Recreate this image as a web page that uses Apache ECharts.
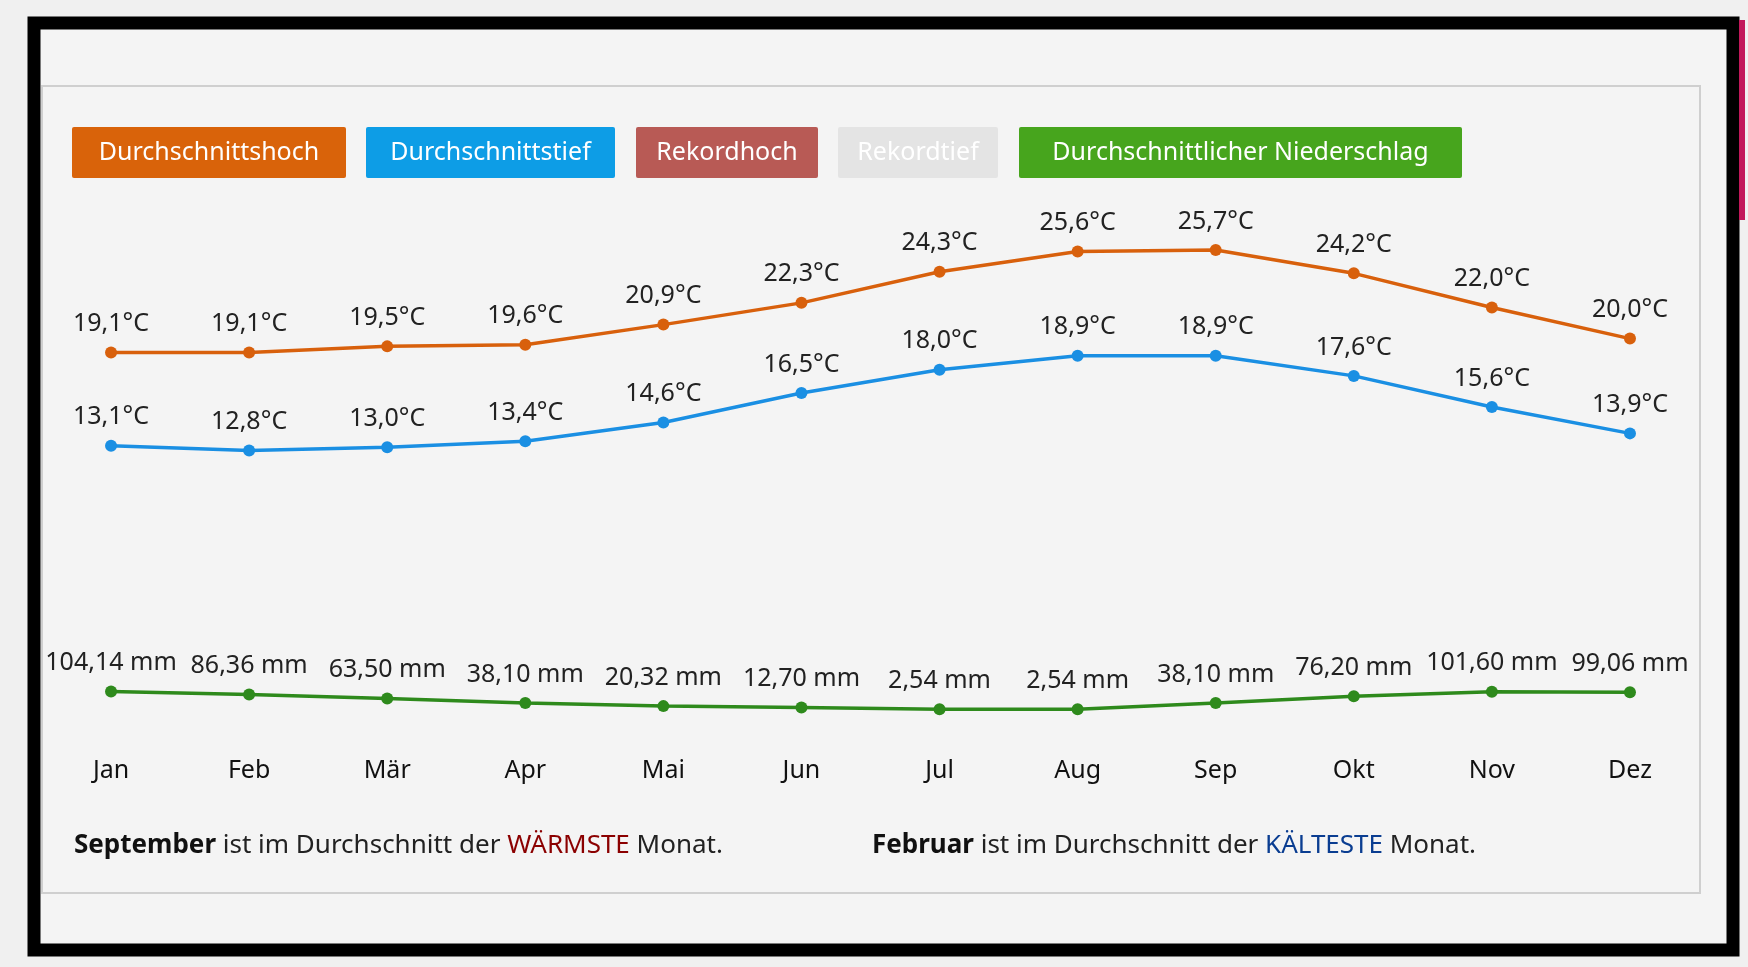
<!DOCTYPE html>
<html>
<head>
<meta charset="utf-8">
<title>Klima</title>
<script src="https://cdn.jsdelivr.net/npm/echarts@6/dist/echarts.min.js"></script>
<style>
  * { margin: 0; padding: 0; }
  html, body { background: #f0f0f0; }
  #main { width: 1748px; height: 967px; }
</style>
</head>
<body>
<div id="main"></div>
<script>
var months = ['Jan', 'Feb', 'Mär', 'Apr', 'Mai', 'Jun', 'Jul', 'Aug', 'Sep', 'Okt', 'Nov', 'Dez'];
var avgHigh = [19.1, 19.1, 19.5, 19.6, 20.9, 22.3, 24.3, 25.6, 25.7, 24.2, 22.0, 20.0];
var avgLow = [13.1, 12.8, 13.0, 13.4, 14.6, 16.5, 18.0, 18.9, 18.9, 17.6, 15.6, 13.9];
var precip = [104.14, 86.36, 63.50, 38.10, 20.32, 12.70, 2.54, 2.54, 38.10, 76.20, 101.60, 99.06];
var legendItems = [
  { name: 'Durchschnittshoch', color: '#d9630a', x: 72, w: 274 },
  { name: 'Durchschnittstief', color: '#0d9de6', x: 366, w: 249 },
  { name: 'Rekordhoch', color: '#b85a55', x: 636, w: 182 },
  { name: 'Rekordtief', color: '#e4e4e4', x: 838, w: 160 },
  { name: 'Durchschnittlicher Niederschlag', color: '#47a51d', x: 1019, w: 443 }
];

var FONT = '"Noto Sans", "Open Sans", sans-serif';
var chart = echarts.init(document.getElementById('main'));

function fmt(v, d) { return v.toFixed(d).replace('.', ','); }

var graphics = [
  { type: 'rect', shape: { x: 0, y: 0, width: 1748, height: 967 }, style: { fill: '#f0f0f0' }, z: -10 },
  { type: 'rect', shape: { x: 34, y: 23, width: 1699, height: 927 },
    style: { fill: '#f4f4f4', stroke: '#000', lineWidth: 13 }, z: -9 },
  { type: 'rect', shape: { x: 42, y: 86, width: 1658, height: 807 },
    style: { fill: '#f4f4f4', stroke: '#cfcfcf', lineWidth: 2 }, z: -8 },
  { type: 'rect', shape: { x: 1739, y: 20, width: 6, height: 200 }, style: { fill: '#c2185b' }, z: -7 },
  { type: 'text', left: 74, top: 833, z: 10,
    style: { text: '{b|September} ist im Durchschnitt der {r|WÄRMSTE} Monat.', font: '26px ' + FONT, fill: '#222',
      rich: { b: { fontWeight: 'bold', fontSize: 26, fontFamily: FONT, fill: '#111' }, r: { fill: '#8b0000', fontSize: 26, fontFamily: FONT } } } },
  { type: 'text', left: 872, top: 833, z: 10,
    style: { text: '{b|Februar} ist im Durchschnitt der {r|KÄLTESTE} Monat.', font: '26px ' + FONT, fill: '#222',
      rich: { b: { fontWeight: 'bold', fontSize: 26, fontFamily: FONT, fill: '#111' }, r: { fill: '#0a3d91', fontSize: 26, fontFamily: FONT } } } }
];
legendItems.forEach(function (it) {
  graphics.push({ type: 'rect', shape: { x: it.x, y: 127, width: it.w, height: 51, r: 2 }, style: { fill: it.color }, z: 5 });
  graphics.push({ type: 'text', x: it.x + it.w / 2, y: 153, z: 6,
    style: { text: it.name, fill: '#fff', font: '25px ' + FONT, align: 'center', verticalAlign: 'middle' } });
});

function lineSeries(name, data, color, axis, label, offset) {
  return {
    name: name, type: 'line', yAxisIndex: axis, data: data,
    symbol: 'circle', symbolSize: 12,
    lineStyle: { color: color, width: 3.5 },
    itemStyle: { color: color },
    label: { show: true, position: 'top', distance: offset, color: '#222', fontSize: 25, fontFamily: FONT, formatter: label },
    animation: false
  };
}

chart.setOption({
  backgroundColor: 'transparent',
  graphic: graphics,
  grid: { left: 42, right: 49, top: 201, bottom: 231 },
  xAxis: {
    type: 'category', data: months, boundaryGap: true,
    axisLine: { show: false }, axisTick: { show: false },
    axisLabel: { color: '#111', fontSize: 25, fontFamily: FONT, margin: 22 }
  },
  yAxis: [
    { type: 'value', min: -5.577, max: 28.856, show: false, splitLine: { show: false } },
    { type: 'value', min: -149.9, max: 2898, show: false, splitLine: { show: false } }
  ],
  series: [
    lineSeries('Durchschnittshoch', avgHigh, '#d8600c', 0, function (p) { return fmt(p.value, 1) + '°C'; }, 10),
    lineSeries('Durchschnittstief', avgLow, '#1a8fe3', 0, function (p) { return fmt(p.value, 1) + '°C'; }, 10),
    lineSeries('Durchschnittlicher Niederschlag', precip, '#2e8a1c', 1, function (p) { return fmt(p.value, 2) + ' mm'; }, 10)
  ]
});
</script>
</body>
</html>
